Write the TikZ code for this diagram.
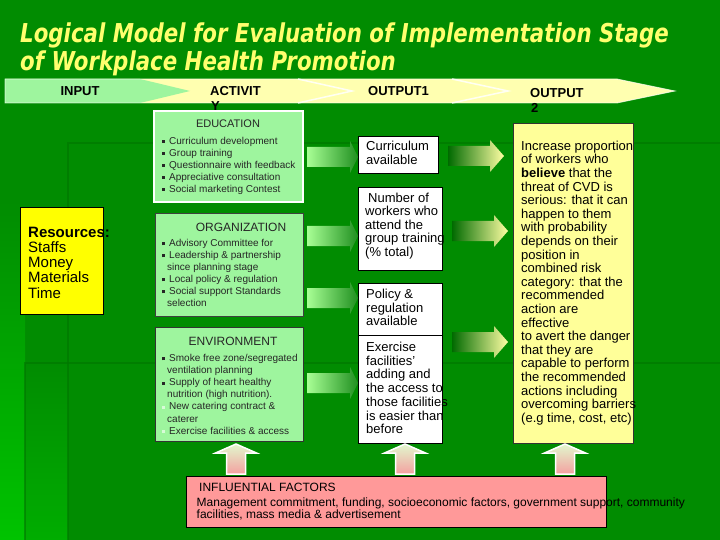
\documentclass[tikz,border=0pt]{standalone}
\usepackage{fontspec}
\setmainfont{Liberation Sans}
\newfontfamily\titlefont[FakeStretch=0.82]{DejaVu Sans}
\usetikzlibrary{shadings}
\definecolor{bg}{RGB}{1,140,1}
\definecolor{bgdark}{RGB}{0,118,0}
\definecolor{bgpale}{RGB}{0,195,0}
\definecolor{ttl}{RGB}{255,255,110}
\definecolor{lgreen}{RGB}{158,245,158}
\definecolor{banyel}{RGB}{255,255,176}
\definecolor{pyel}{RGB}{255,255,153}
\definecolor{pinkf}{RGB}{255,153,153}
\definecolor{resy}{RGB}{255,255,0}
\newcommand\bsq{\makebox[7pt][l]{\rule[1.2pt]{3pt}{3pt}}}
\newcommand\wsq{\makebox[7pt][l]{\textcolor{white!60!lgreen}{\rule[1.2pt]{3pt}{3pt}}}}
\newcommand\tlines[6]{%
  \foreach \lintext [count=\i from 0] in {#6} {\node[#1, anchor=base west, inner sep=0pt] (#2\i) at ({#3},{#4+\i*#5}) {\lintext};}}
\newcommand\rarrow[5]{%
  \shade[#5] ({#1},{#3-10}) -- ({#2-#4},{#3-10}) -- ({#2-#4},{#3-16}) -- ({#2},{#3}) -- ({#2-#4},{#3+16}) -- ({#2-#4},{#3+10}) -- ({#1},{#3+10}) -- cycle;}
\newcommand\uarrow[1]{%
  \shade[top color=uptop, bottom color=upbot, draw=white, line width=1.5pt]
    ({#1-9.5},474) -- ({#1-9.5},453) -- ({#1-20.5},453) -- ({#1},444) -- ({#1+20.5},453) -- ({#1+9.5},453) -- ({#1+9.5},474) -- cycle;}
\definecolor{uptop}{RGB}{225,248,205}
\definecolor{upbot}{RGB}{244,160,160}
\tikzset{
  box/.style={anchor=north west, inner sep=0pt, outer sep=0pt},
  small/.style={font=\fontsize{10}{12}\selectfont, text=black!85},
  head/.style={font=\fontsize{12}{13}\selectfont, text=black!85, anchor=base, inner sep=0pt},
  mid/.style={font=\fontsize{13}{14}\selectfont, text=black},
  ban/.style={font=\fontsize{13}{14}\selectfont\bfseries, text=black, inner sep=0pt},
}
\begin{document}
\begin{tikzpicture}[x=1pt,y=-1pt]
\useasboundingbox (0,0) rectangle (720,540);
% background
\fill[bg] (0,0) rectangle (720,540);
\shade[top color=bg, bottom color=bgpale] (0,200) rectangle (25,540);
\shade[top color=bg, bottom color=bgpale!60!bg] (25,363) rectangle (68,540);
\draw[bgdark, line width=2pt, opacity=0.6] (68,540) -- (68,143) -- (720,143);
\draw[bgdark, line width=2pt, opacity=0.6] (25,540) -- (25,363) -- (720,363);
% title
\node[anchor=base west, inner sep=0pt, text=ttl, font=\titlefont\bfseries\itshape\fontsize{26}{30}\selectfont] (t1) at (20,43) {Logical Model for Evaluation of Implementation Stage};
\node[anchor=base west, inner sep=0pt, text=ttl, font=\titlefont\bfseries\itshape\fontsize{26}{30}\selectfont] (t2) at (20,71) {of Workplace Health Promotion};
% banner
\fill[banyel] (5,79) -- (617,79) -- (675,91) -- (617,103) -- (5,103) -- cycle;
\draw[white, line width=1.5pt, opacity=.85] (298,79) -- (352,91) -- (298,103);
\draw[white, line width=1.5pt, opacity=.85] (452,79) -- (508,91) -- (452,103);
\fill[lgreen] (5,79) -- (140,79) -- (190,91) -- (140,103) -- (5,103) -- cycle;
\draw[white, line width=0.8pt, opacity=.7] (5,79) -- (617,79) -- (675,91) -- (617,103) -- (5,103) -- cycle;
\node[ban, anchor=base] (binput) at (80,96) {INPUT};
\node[ban, anchor=base west] (bact) at (210,96) {ACTIVIT};
\node[ban, anchor=base west] (bacty) at (211,110.5) {Y};
\node[ban, anchor=base west] (bout1) at (368,96) {OUTPUT1};
\node[ban, anchor=base west] (bout2) at (530,98) {OUTPUT};
\node[ban, anchor=base west] (bout2n) at (531,113) {2};
% resources
\node[box, fill=resy, draw=black, line width=0.6pt, minimum width=83pt, minimum height=107pt] (res) at (20,207) {};
\node[anchor=base west, inner sep=0pt, font=\fontsize{15}{15}\selectfont\bfseries] (resh) at (28,237) {Resources:};
\tlines{font=\fontsize{15}{15}\selectfont}{resl}{28}{252.3}{15.3}{Staffs,Money,Materials,Time}
% activity boxes
\node[box, fill=lgreen, draw=white, line width=1.8pt, minimum width=149pt, minimum height=91pt] (edu) at (154,111) {};
\node[box, fill=lgreen, draw=black!75, line width=0.8pt, minimum width=148pt, minimum height=103pt] (org) at (155,213) {};
\node[box, fill=lgreen, draw=black!80, line width=0.8pt, minimum width=148pt, minimum height=114pt] (env) at (155,327) {};
\node[head, font=\fontsize{11}{13}\selectfont] (eduh) at (228,128) {EDUCATION};
\node[head] (orgh) at (241,231.5) {ORGANIZATION};
\node[head] (envh) at (233,345.5) {ENVIRONMENT};
\tlines{small}{edul}{162}{144.2}{12}{\bsq Curriculum development,\bsq Group training,\bsq Questionnaire with feedback,\bsq Appreciative consultation,\bsq Social marketing Contest}
\tlines{small}{orgl}{162}{246.5}{12}{\bsq Advisory Committee for,\bsq Leadership \& partnership,\hspace{5pt}since planning stage,\bsq Local policy \& regulation,\bsq Social support Standards,\hspace{5pt}selection}
\tlines{small}{envl}{162}{361.5}{12.1}{\bsq Smoke free zone/segregated,\hspace{5pt}ventilation planning,\bsq Supply of heart healthy,\hspace{5pt}nutrition (high nutrition).,\wsq New catering contract \&,\hspace{5pt}caterer,\wsq Exercise facilities \& access}
% output1 boxes
\node[box, fill=white, draw=black, line width=0.7pt, minimum width=80pt, minimum height=37pt] (o1a) at (358,136) {};
\node[box, fill=white, draw=black, line width=0.7pt, minimum width=84pt, minimum height=83pt] (o1b) at (358,187) {};
\node[box, fill=white, draw=black, line width=0.7pt, minimum width=84pt, minimum height=52pt] (o1c) at (358,283) {};
\node[box, fill=white, draw=black, line width=0.7pt, minimum width=84pt, minimum height=108pt] (o1d) at (358,335) {};
\tlines{mid}{o1al}{366}{151}{13.8}{Curriculum,available}
\tlines{mid}{o1bl}{365}{202.5}{13.4}{\hspace{3pt}Number of,workers who,attend the,group training,(\% total)}
\tlines{mid}{o1cl}{366}{298.5}{13.5}{Policy \&,regulation,available}
\tlines{mid}{o1dl}{366}{351.5}{13.7}{Exercise,facilities',adding and,the access to,those facilities,is easier than,before}
% output2 box
\node[box, fill=pyel, draw=black!80, line width=0.8pt, minimum width=120pt, minimum height=320pt] (o2) at (513,123) {};
\tlines{mid}{o2l}{521}{150.3}{13.6}{Increase proportion,of workers who,\textbf{believe} that the,threat of CVD is,serious: that it can,happen to them,with probability,depends on their,position in,combined risk,category: that the,recommended,action are,effective,to avert the danger,that they are,capable to perform,the recommended,actions including,overcoming barriers,{(e.g time, cost, etc)}}
% arrows activity -> output1
\foreach \yy in {157,236,298,383} {\rarrow{307}{358}{\yy}{8}{left color=green!35!white!90!lime, right color=bgdark!80!lgreen}}
% arrows output1 -> output2
\rarrow{448}{504}{156}{14}{left color=bgdark!90!black, right color=pyel!90!white}
\rarrow{452}{508}{231}{14}{left color=bgdark!90!black, right color=pyel!90!white}
\rarrow{452}{508}{342}{14}{left color=bgdark!90!black, right color=pyel!90!white}
% up arrows
\uarrow{236}
\uarrow{405}
\uarrow{565}
% influential factors
\node[box, fill=pinkf, draw=black, line width=0.7pt, minimum width=420pt, minimum height=51pt] (inf) at (186,476) {};
\node[anchor=base west, inner sep=0pt, font=\fontsize{12}{12}\selectfont] (infh) at (199,491) {INFLUENTIAL FACTORS};
\tlines{font=\fontsize{12}{12}\selectfont}{infl}{196.5}{506}{12}{{Management commitment, funding, socioeconomic factors, government support, community},{facilities, mass media \& advertisement}}
\end{tikzpicture}
\end{document}
